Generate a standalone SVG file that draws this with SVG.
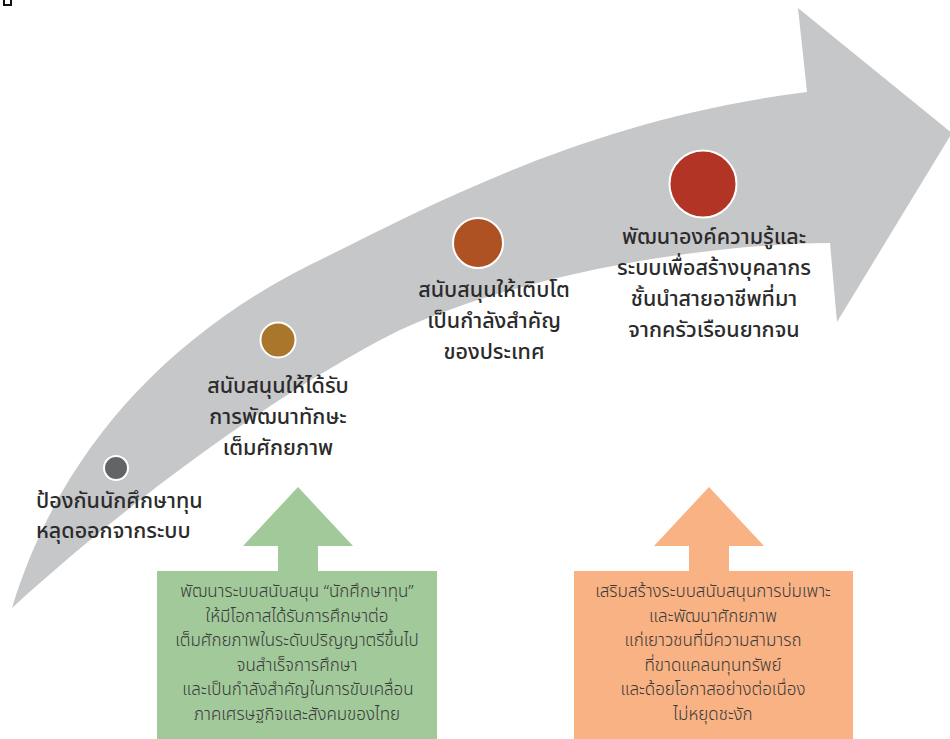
<svg xmlns="http://www.w3.org/2000/svg" width="950" height="739" viewBox="0 0 950 739">
<style>
.lbl{font-family:"Noto Sans Thai","Noto Sans","Liberation Sans",sans-serif;font-size:21.5px;font-weight:500;fill:#2b2b2b}
.box{font-family:"Noto Sans Thai","Noto Sans","Liberation Sans",sans-serif;font-size:17px;font-weight:300;fill:#3a3a3a;text-anchor:middle}
.c{text-anchor:middle}
.dot{stroke:#ffffff;stroke-width:2}
</style>
<rect width="950" height="739" fill="#ffffff"/>
<path d="M4,0 V5 H11 V0" fill="none" stroke="#111" stroke-width="2"/>
<g id="connectors">
  <path id="main-arrow" d="M12,608 C60,450 170,330 330,255 C450,195 600,118 807,92 L798,8 L952,133 L837,322 L830,243 C700,244 520,275 400,330 C280,390 130,500 12,608 Z" fill="#c6c7c9"/>
  <path id="green-arrow" d="M298,487 L353,546 L318,546 L318,572 L278,572 L278,546 L243,546 Z" fill="#a2c99a"/>
  <path id="orange-arrow" d="M709,487 L764,546 L729,546 L729,572 L689,572 L689,546 L654,546 Z" fill="#f8b283"/>
</g>
<g id="node1">
  <circle class="dot" cx="116" cy="468" r="12" fill="#636467"/>
  <text class="lbl" x="36" y="508">ป้องกันนักศึกษาทุน</text>
  <text class="lbl" x="36" y="538">หลุดออกจากระบบ</text>
</g>
<g id="node2">
  <circle class="dot" cx="278" cy="340" r="17.5" fill="#a9772b"/>
  <text class="lbl c" x="278" y="393">สนับสนุนให้ได้รับ</text>
  <text class="lbl c" x="278" y="424">การพัฒนาทักษะ</text>
  <text class="lbl c" x="278" y="455">เต็มศักยภาพ</text>
</g>
<g id="node3">
  <circle class="dot" cx="478" cy="243" r="25" fill="#ae5224"/>
  <text class="lbl c" x="494" y="297">สนับสนุนให้เติบโต</text>
  <text class="lbl c" x="494" y="328">เป็นกำลังสำคัญ</text>
  <text class="lbl c" x="494" y="359">ของประเทศ</text>
</g>
<g id="node4">
  <circle class="dot" cx="703" cy="184" r="33.5" fill="#b23424"/>
  <text class="lbl c" x="714" y="244">พัฒนาองค์ความรู้และ</text>
  <text class="lbl c" x="714" y="275">ระบบเพื่อสร้างบุคลากร</text>
  <text class="lbl c" x="714" y="306">ชั้นนำสายอาชีพที่มา</text>
  <text class="lbl c" x="714" y="337">จากครัวเรือนยากจน</text>
</g>
<g id="green-box">
  <rect x="157" y="571" width="280" height="168" fill="#a2c99a"/>
  <text class="box" x="297" y="597">พัฒนาระบบสนับสนุน “นักศึกษาทุน”</text>
  <text class="box" x="297" y="621.5">ให้มีโอกาสได้รับการศึกษาต่อ</text>
  <text class="box" x="297" y="646">เต็มศักยภาพในระดับปริญญาตรีขึ้นไป</text>
  <text class="box" x="297" y="670.5">จนสำเร็จการศึกษา</text>
  <text class="box" x="298" y="695"> และเป็นกำลังสำคัญในการขับเคลื่อน</text>
  <text class="box" x="297" y="719.5">ภาคเศรษฐกิจและสังคมของไทย</text>
</g>
<g id="orange-box">
  <rect x="574" y="571" width="279" height="168" fill="#f8b283"/>
  <text class="box" x="713" y="597">เสริมสร้างระบบสนับสนุนการบ่มเพาะ</text>
  <text class="box" x="713" y="621.5">และพัฒนาศักยภาพ</text>
  <text class="box" x="713" y="646">แก่เยาวชนที่มีความสามารถ</text>
  <text class="box" x="713" y="670.5">ที่ขาดแคลนทุนทรัพย์</text>
  <text class="box" x="713" y="695">และด้อยโอกาสอย่างต่อเนื่อง</text>
  <text class="box" x="713" y="719.5">ไม่หยุดชะงัก</text>
</g>
</svg>
